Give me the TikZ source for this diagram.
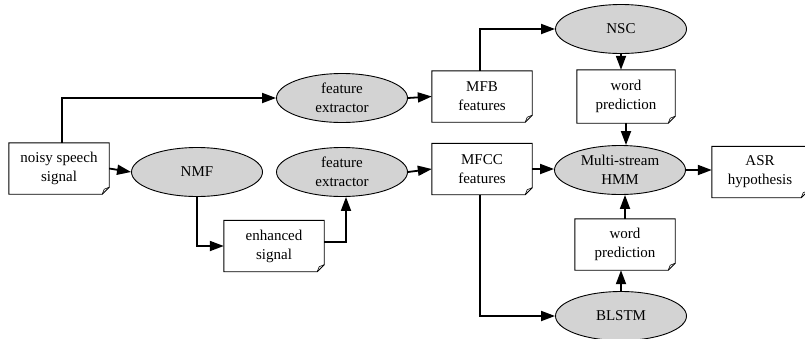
\documentclass[tikz,border=0pt]{standalone}
\usepackage{fontspec}
\setmainfont{Liberation Serif}
\usetikzlibrary{arrows.meta,calc,shapes.geometric}
\begin{document}
\begin{tikzpicture}[x=1pt,y=-1pt,
  every node/.style={font=\fontsize{15}{19}\selectfont},
  proc/.style={ellipse, draw=black, line width=0.9pt, fill=procgray, inner sep=0pt,
    minimum width=131pt, minimum height=49pt, align=center},
  notebox/.style={rectangle, fill=white, inner sep=0pt, minimum width=100pt,
    minimum height=51pt, align=center},
  noteline/.style={draw=black, line width=0.9pt, line join=miter},
  conn/.style={draw=black, line width=1.8pt, -{Triangle[length=14pt,width=10pt]}}
]
\definecolor{procgray}{HTML}{D3D3D3}
\useasboundingbox (0,0) rectangle (805,338);
\clip (0,0) rectangle (805,338);

% process ellipses
\node[proc] (nmf) at (197,172) {NMF};
\node[proc] (fe1) at (342,98) {feature\\extractor};
\node[proc] (fe2) at (342,172) {feature\\extractor};
\node[proc] (nsc) at (621,29) {NSC};
\node[proc] (hmm) at (620,170) {Multi-stream\\HMM};
\node[proc] (blstm) at (621,316) {BLSTM};

% note boxes
\node[notebox] (noisy) at (59,168.5) {noisy speech\\signal};
\node[notebox] (enh) at (274,246) {enhanced\\signal};
\node[notebox] (mfb) at (482,96.5) {MFB\\features};
\node[notebox] (mfcc) at (482,169) {MFCC\\features};
\node[notebox, minimum width=98pt, minimum height=53pt] (wp1) at (626,96.5) {word\\prediction};
\node[notebox] (wp2) at (625,244.5) {word\\prediction};
\node[notebox, minimum width=96pt] (asr) at (760,172) {ASR\\hypothesis};

\foreach \n in {noisy,enh,mfb,mfcc,wp1,wp2,asr}{
  \draw[noteline] (\n.north west) -- (\n.north east) -- ([yshift=7pt]\n.south east)
     -- ([xshift=-7pt]\n.south east) -- (\n.south west) -- cycle;
  \draw[line width=0.6pt] ([xshift=-7pt]\n.south east) -- ([xshift=-5pt,yshift=5pt]\n.south east)
     -- ([yshift=7pt]\n.south east);
}

% connectors
\draw[conn] ([xshift=3pt]noisy.north) |- (fe1.west);
\draw[conn] (noisy.east) -- (nmf.west);
\draw[conn] (nmf.south) |- (enh.west);
\draw[conn] ([yshift=4pt]enh.east) -| ([xshift=4pt]fe2.south);
\draw[conn] (fe1.east) -- (mfb.west);
\draw[conn] (fe2.east) -- (mfcc.west);
\draw[conn] ([xshift=-2pt]mfb.north) |- (nsc.west);
\draw[conn] (mfcc.east) -- (mfcc.east -| hmm.west);
\draw[conn] ([xshift=-2pt]mfcc.south) |- (blstm.west);
\draw[conn] (nsc.south) -- (nsc.south |- wp1.north);
\draw[conn] (wp1.south) -- (wp1.south |- hmm.north);
\draw[conn] (hmm.east) -- (hmm.east -| asr.west);
\draw[conn] (blstm.north) -- (blstm.north |- wp2.south);
\draw[conn] (wp2.north) -- (wp2.north |- hmm.south);
\end{tikzpicture}
\end{document}
